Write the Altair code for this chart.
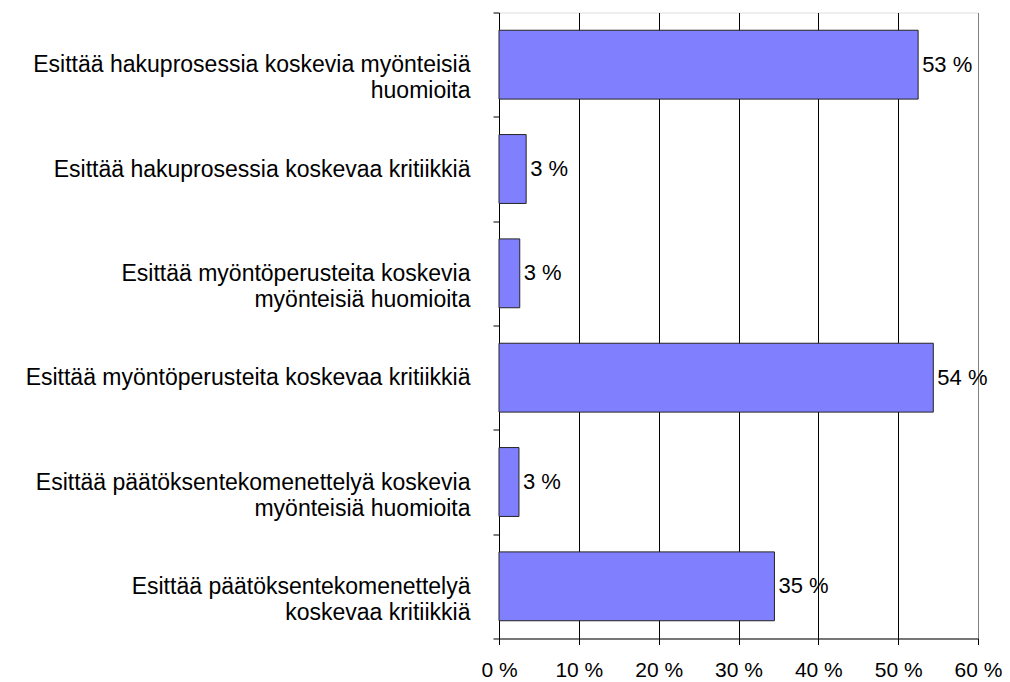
import altair as alt
import pandas as pd

categories = [
    "Esittää hakuprosessia koskevia myönteisiä|huomioita",
    "Esittää hakuprosessia koskevaa kritiikkiä",
    "Esittää myöntöperusteita koskevia|myönteisiä huomioita",
    "Esittää myöntöperusteita koskevaa kritiikkiä",
    "Esittää päätöksentekomenettelyä koskevia|myönteisiä huomioita",
    "Esittää päätöksentekomenettelyä|koskevaa kritiikkiä",
]
values = [52.5, 3.4, 2.6, 54.4, 2.5, 34.5]
labels = ["53 %", "3 %", "3 %", "54 %", "3 %", "35 %"]

df = pd.DataFrame({"cat": categories, "value": values, "label": labels})

FONT = "Liberation Sans"

y_enc = alt.Y(
    "cat:N",
    sort=categories,
    title=None,
    scale=alt.Scale(paddingInner=0, paddingOuter=0),
    axis=alt.Axis(
        labelExpr="split(datum.label, '|')",
        labelFontSize=23,
        labelLineHeight=26,
        labelFont=FONT,
        labelColor="black",
        labelPadding=23,
        labelLimit=0,
        tickSize=6,
        tickColor="black",
        domainColor="black",
        tickBand="extent",
        grid=False,
    ),
)

x_enc = alt.X(
    "value:Q",
    title=None,
    scale=alt.Scale(domain=[0, 60], nice=False),
    axis=alt.Axis(
        values=[0, 10, 20, 30, 40, 50, 60],
        labelExpr="datum.value + ' %'",
        labelFontSize=21,
        labelFont=FONT,
        labelColor="black",
        labelPadding=15,
        labelFlush=False,
        tickSize=6,
        tickColor="black",
        domainColor="black",
        grid=True,
        gridColor=alt.condition("datum.value === 60", alt.value("#808080"), alt.value("black")),
        gridOpacity=1,
        gridWidth=1,
    ),
)

bars = alt.Chart(df).mark_bar(
    color="#8080FF", stroke="#222222", strokeWidth=1, height={"band": 0.66}
).encode(x=x_enc, y=y_enc)

text = alt.Chart(df).mark_text(
    align="left", baseline="middle", dx=4, fontSize=22, font=FONT, color="black"
).encode(x="value:Q", y=alt.Y("cat:N", sort=categories), text="label:N")

chart = (
    alt.layer(bars, text)
    .properties(
        width=479,
        height=626,
        autosize=alt.AutoSizeParams(type="none"),
        padding={"left": 491, "top": 4.5, "right": 24, "bottom": 52},
    )
    .configure_view(stroke="#808080", strokeWidth=1)
    .configure(background="white")
)

chart.save("out.html", embed_options={"renderer": "svg", "actions": False})
